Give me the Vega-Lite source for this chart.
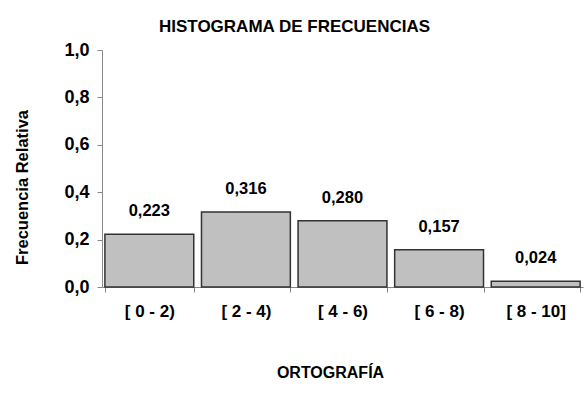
{
  "$schema": "https://vega.github.io/schema/vega-lite/v6.json",
  "width": 481,
  "height": 237,
  "autosize": "none",
  "padding": {"left": 102, "top": 50, "right": 5, "bottom": 107},
  "background": "white",
  "config": {
    "locale": {"number": {"decimal": ",", "thousands": ".", "grouping": [3], "currency": ["", ""]}},
    "view": {"stroke": null},
    "font": "Liberation Sans"
  },
  "title": {
    "text": "HISTOGRAMA DE FRECUENCIAS",
    "font": "Liberation Sans",
    "fontSize": 17,
    "fontWeight": "bold",
    "color": "black",
    "anchor": "middle",
    "dx": -48,
    "offset": 5
  },
  "data": {
    "values": [
      {"clase": "[ 0 - 2)", "fr": 0.223},
      {"clase": "[ 2 - 4)", "fr": 0.316},
      {"clase": "[ 4 - 6)", "fr": 0.280},
      {"clase": "[ 6 - 8)", "fr": 0.157},
      {"clase": "[ 8 - 10]", "fr": 0.024}
    ]
  },
  "encoding": {
    "x": {
      "field": "clase",
      "type": "nominal",
      "sort": null,
      "scale": {"paddingInner": 0.08, "paddingOuter": 0.03},
      "axis": {
        "title": "ORTOGRAFÍA",
        "titleFont": "Liberation Sans",
        "titleFontSize": 16,
        "titleFontWeight": "bold",
        "titleColor": "black",
        "titleX": 228,
        "titleY": 85,
        "titleBaseline": "middle",
        "labelAngle": 0,
        "labelFont": "Liberation Sans",
        "labelFontSize": 17,
        "labelFontWeight": "bold",
        "labelColor": "black",
        "labelPadding": 11,
        "tickBand": "extent",
        "tickSize": 5,
        "tickColor": "#888888",
        "domainColor": "#888888",
        "grid": false
      }
    },
    "y": {
      "field": "fr",
      "type": "quantitative",
      "scale": {"domain": [0, 1]},
      "axis": {
        "title": "Frecuencia Relativa",
        "titleFont": "Liberation Sans",
        "titleFontSize": 16.5,
        "titleFontWeight": "bold",
        "titleColor": "black",
        "titleAngle": -90,
        "titleX": -80,
        "titleY": 137,
        "titleAlign": "center",
        "titleBaseline": "middle",
        "values": [0, 0.2, 0.4, 0.6, 0.8, 1.0],
        "format": ".1f",
        "labelFont": "Liberation Sans",
        "labelFontSize": 18,
        "labelFontWeight": "bold",
        "labelColor": "black",
        "labelPadding": 8,
        "tickSize": 5,
        "tickColor": "#888888",
        "domainColor": "#888888",
        "grid": false
      }
    }
  },
  "layer": [
    {
      "mark": {"type": "bar", "fill": "#c0c0c0", "stroke": "#333333", "strokeWidth": 1.5}
    },
    {
      "mark": {"type": "text", "dy": -23, "baseline": "middle", "font": "Liberation Sans", "fontSize": 16.5, "fontWeight": "bold", "color": "black"},
      "encoding": {"text": {"field": "fr", "type": "quantitative", "format": ".3f"}}
    }
  ]
}
